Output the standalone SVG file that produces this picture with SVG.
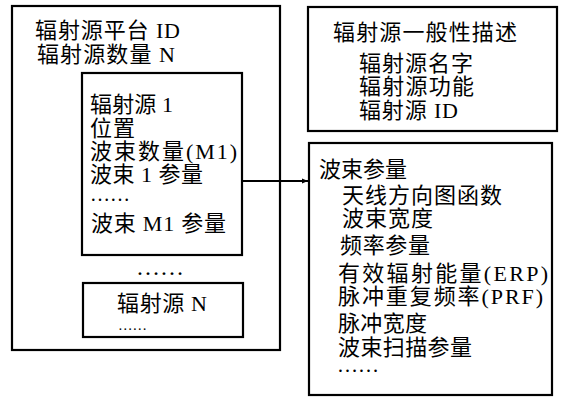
<svg xmlns="http://www.w3.org/2000/svg" width="561" height="397" viewBox="0 0 561 397">
<style>
.box{fill:#fff;stroke:#000;stroke-width:2.2}
.t{font-family:"Liberation Serif","Noto Sans CJK SC",serif;font-size:22px;fill:#000}
.d{font-family:"Liberation Serif","Noto Sans CJK SC",serif;fill:#000}
.c{stroke:#000;stroke-width:2;fill:none}
</style>
<defs>
<marker id="arr" viewBox="0 0 10 10" refX="10" refY="5" markerWidth="9" markerHeight="6" markerUnits="userSpaceOnUse" orient="auto">
<path d="M0,1 L10,5 L0,9 Z" fill="#000"/>
</marker>
</defs>
<rect width="561" height="397" fill="#fff"/>
<g id="platform">
<rect class="box" x="12" y="6" width="268" height="344"/>
<text class="t" x="35" y="37.5" textLength="145">辐射源平台 ID</text>
<text class="t" x="37" y="61.5" textLength="138">辐射源数量 N</text>
<text class="d" x="136" y="274.5" style="font-size:24px">……</text>
</g>
<g id="source1">
<rect class="box" x="82" y="73" width="160" height="182"/>
<text class="t" x="90" y="112" textLength="83">辐射源 1</text>
<text class="t" x="90" y="135.5" textLength="45">位置</text>
<text class="t" x="90" y="158.5" textLength="147">波束数量(M1)</text>
<text class="t" x="90" y="181.5" textLength="113">波束 1 参量</text>
<text class="d" x="90" y="200.5" style="font-size:20px">……</text>
<text class="t" x="91" y="230.5" textLength="135">波束 M1 参量</text>
</g>
<g id="sourceN">
<rect class="box" x="83" y="283" width="160" height="54"/>
<text class="t" x="117" y="311" textLength="90">辐射源 N</text>
<text class="d" x="118" y="329.5" style="font-size:14.5px">……</text>
</g>
<g id="general">
<rect class="box" x="308" y="7" width="249" height="124"/>
<text class="t" x="333" y="39.5" textLength="184">辐射源一般性描述</text>
<text class="t" x="359" y="71" textLength="114">辐射源名字</text>
<text class="t" x="359" y="93.5" textLength="115">辐射源功能</text>
<text class="t" x="359" y="117.5" textLength="99">辐射源 ID</text>
</g>
<g id="beam">
<rect class="box" x="309" y="143" width="243" height="252"/>
<text class="t" x="319" y="177" textLength="88">波束参量</text>
<text class="t" x="342" y="202.5" textLength="160">天线方向图函数</text>
<text class="t" x="342" y="225.5" textLength="91">波束宽度</text>
<text class="t" x="340" y="252.5" textLength="90">频率参量</text>
<text class="t" x="338" y="280.5" textLength="210">有效辐射能量(ERP)</text>
<text class="t" x="338" y="304" textLength="205">脉冲重复频率(PRF)</text>
<text class="t" x="338" y="330.5" textLength="89">脉冲宽度</text>
<text class="t" x="338" y="355" textLength="134">波束扫描参量</text>
<text class="d" x="337" y="372" style="font-size:21px">……</text>
</g>
<g id="connectors">
<line class="c" x1="242" y1="181" x2="308" y2="181" marker-end="url(#arr)"/>
</g>
</svg>
